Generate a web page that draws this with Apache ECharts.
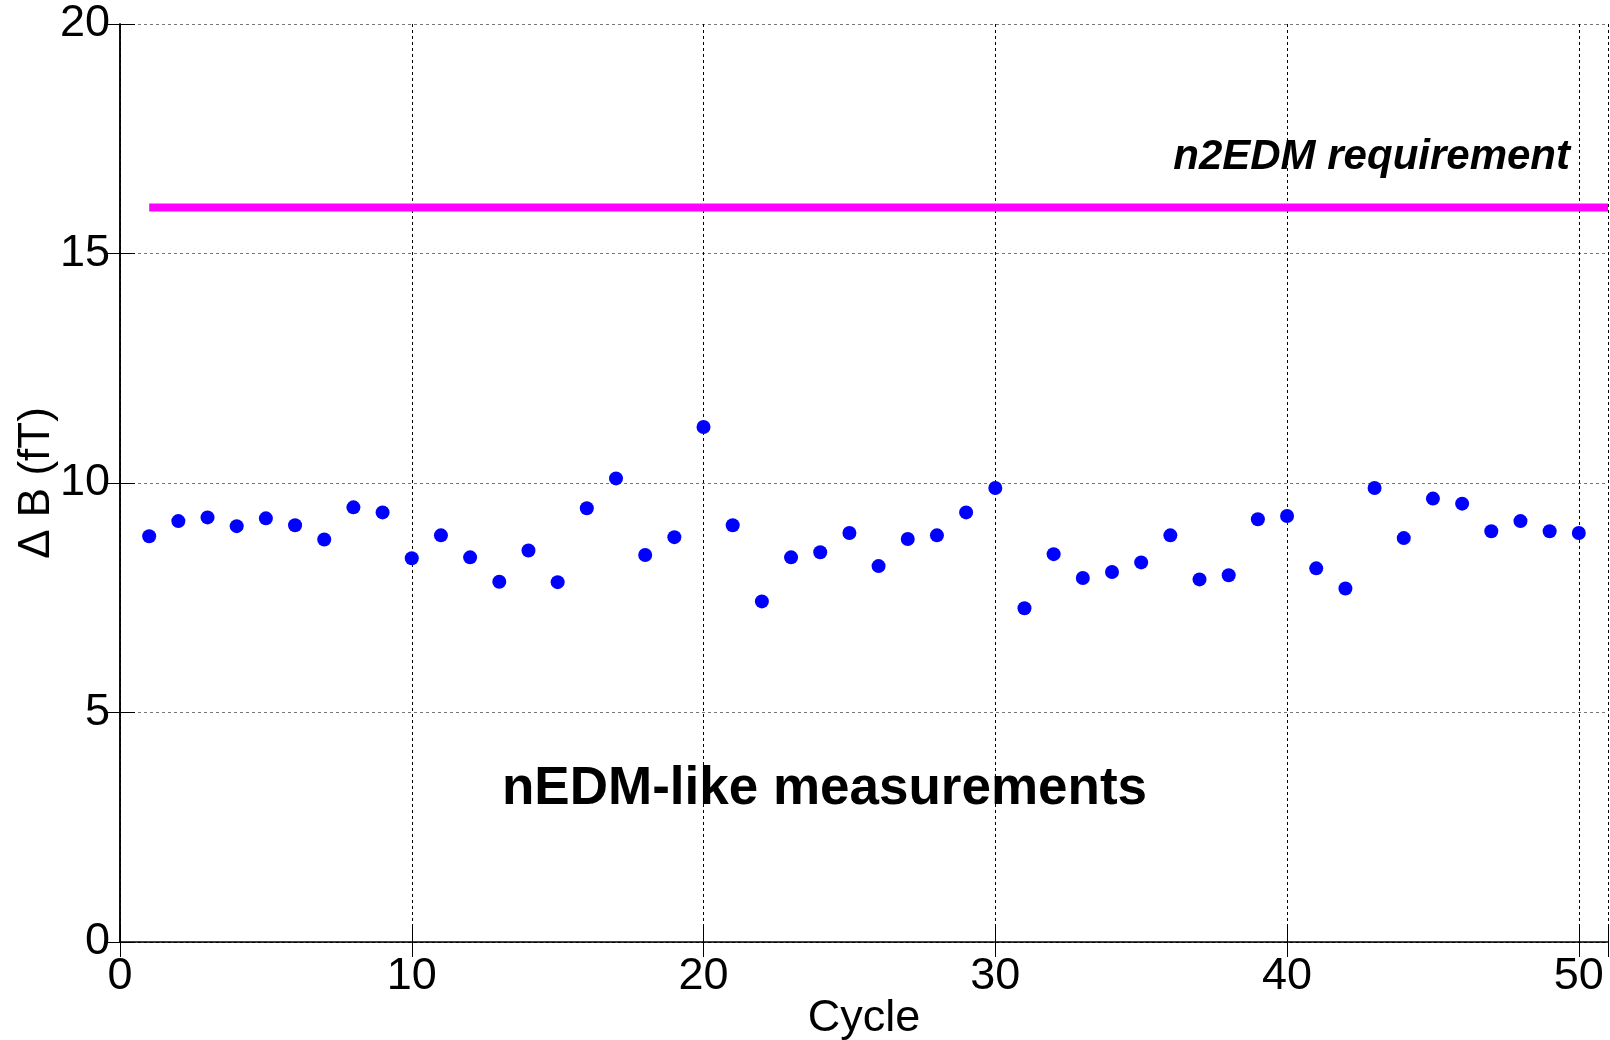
<!DOCTYPE html>
<html>
<head>
<meta charset="utf-8">
<script src="https://cdn.jsdelivr.net/npm/echarts@6/dist/echarts.min.js"></script>
<style>html,body{margin:0;padding:0;background:#fff;}#c{width:1610px;height:1040px;}</style>
</head>
<body>
<div id="c"></div>
<script>
const cycles = [1,2,3,4,5,6,7,8,9,10,11,12,13,14,15,16,17,18,19,20,21,22,23,24,25,26,27,28,29,30,31,32,33,34,35,36,37,38,39,40,41,42,43,44,45,46,47,48,49,50];
const deltaB = [8.84,9.17,9.25,9.06,9.23,9.08,8.77,9.47,9.36,8.36,8.86,8.38,7.85,8.53,7.84,9.45,10.10,8.43,8.82,11.22,9.08,7.42,8.38,8.49,8.91,8.19,8.78,8.86,9.36,9.89,7.27,8.45,7.93,8.06,8.27,8.86,7.90,7.99,9.21,9.28,8.14,7.70,9.89,8.80,9.66,9.55,8.95,9.17,8.95,8.91];
const requirementX = [1, 51];
const requirementY = [16, 16];
const xTicks = [0,10,20,30,40,50];
const yTicks = [0,5,10,15,20];
const labels = {req: 'n2EDM requirement', meas: 'nEDM-like measurements', xName: 'Cycle', yName: 'Δ B (fT)'};

const FONT = '"Liberation Sans", Arial, sans-serif';
const chart = echarts.init(document.getElementById('c'), null, {renderer: 'canvas'});
const gridLine = (c) => ({show: true, lineStyle: {color: c, width: 1, type: [3, 3]}});
const tickIn = {show: true, inside: true, length: 15, lineStyle: {color: '#000', width: 1}};
const option = {
  animation: false,
  backgroundColor: '#fff',
  grid: {left: 120, right: 2, top: 24, bottom: 98, containLabel: false, outerBoundsMode: 'none'},
  xAxis: [{
    type: 'value', min: 0, max: 51, interval: 10,
    name: labels.xName, nameLocation: 'middle', nameGap: 54, nameMoveOverlap: false,
    nameTextStyle: {fontFamily: FONT, fontSize: 45, color: '#000'},
    axisLine: {show: true, onZero: false, lineStyle: {color: '#000', width: 1.5}},
    axisTick: tickIn,
    axisLabel: {fontFamily: FONT, fontSize: 45, color: '#000', margin: 12,
      formatter: v => xTicks.includes(v) ? String(v) : ''},
    splitLine: gridLine('#000')
  }, {
    type: 'value', min: 0, max: 51, interval: 10, position: 'top',
    axisLine: {show: true, lineStyle: {color: '#000', width: 1, type: [3,3]}},
    axisTick: tickIn, axisLabel: {show: false}, splitLine: {show: false}
  }],
  yAxis: [{
    type: 'value', min: 0, max: 20, interval: 5,
    name: labels.yName, nameLocation: 'middle', nameGap: 61, nameRotate: 90, nameMoveOverlap: false,
    nameTextStyle: {fontFamily: FONT, fontSize: 44, color: '#000'},
    axisLine: {show: true, onZero: false, lineStyle: {color: '#000', width: 1.5}},
    axisTick: tickIn,
    axisLabel: {fontFamily: FONT, fontSize: 45, color: '#000', margin: 10,
      formatter: v => yTicks.includes(v) ? String(v) : ''},
    splitLine: gridLine('#777')
  }, {
    type: 'value', min: 0, max: 20, interval: 5, position: 'right',
    axisLine: {show: true, lineStyle: {color: '#000', width: 1.5}},
    axisTick: tickIn, axisLabel: {show: false}, splitLine: {show: false}
  }],
  series: [{
    type: 'line', name: 'requirement',
    data: requirementX.map((x, i) => [x, requirementY[i]]),
    showSymbol: false, symbol: 'none',
    lineStyle: {color: '#ff00ff', width: 8}, z: 3
  }, {
    type: 'scatter', name: 'measurements',
    data: cycles.map((c, i) => [c, deltaB[i]]),
    symbol: 'circle', symbolSize: 14,
    itemStyle: {color: '#0000ff', opacity: 1}, z: 4
  }],
  graphic: [{
    type: 'text', right: 40, top: 136,
    style: {text: labels.req, fontFamily: FONT, fontSize: 42, fontWeight: 'bold', fontStyle: 'italic', fill: '#000'}
  }, {
    type: 'text', left: 502, top: 763,
    style: {text: labels.meas, fontFamily: FONT, fontSize: 53, fontWeight: 'bold', fill: '#000'}
  }]
};
chart.setOption(option);
</script>
</body>
</html>
